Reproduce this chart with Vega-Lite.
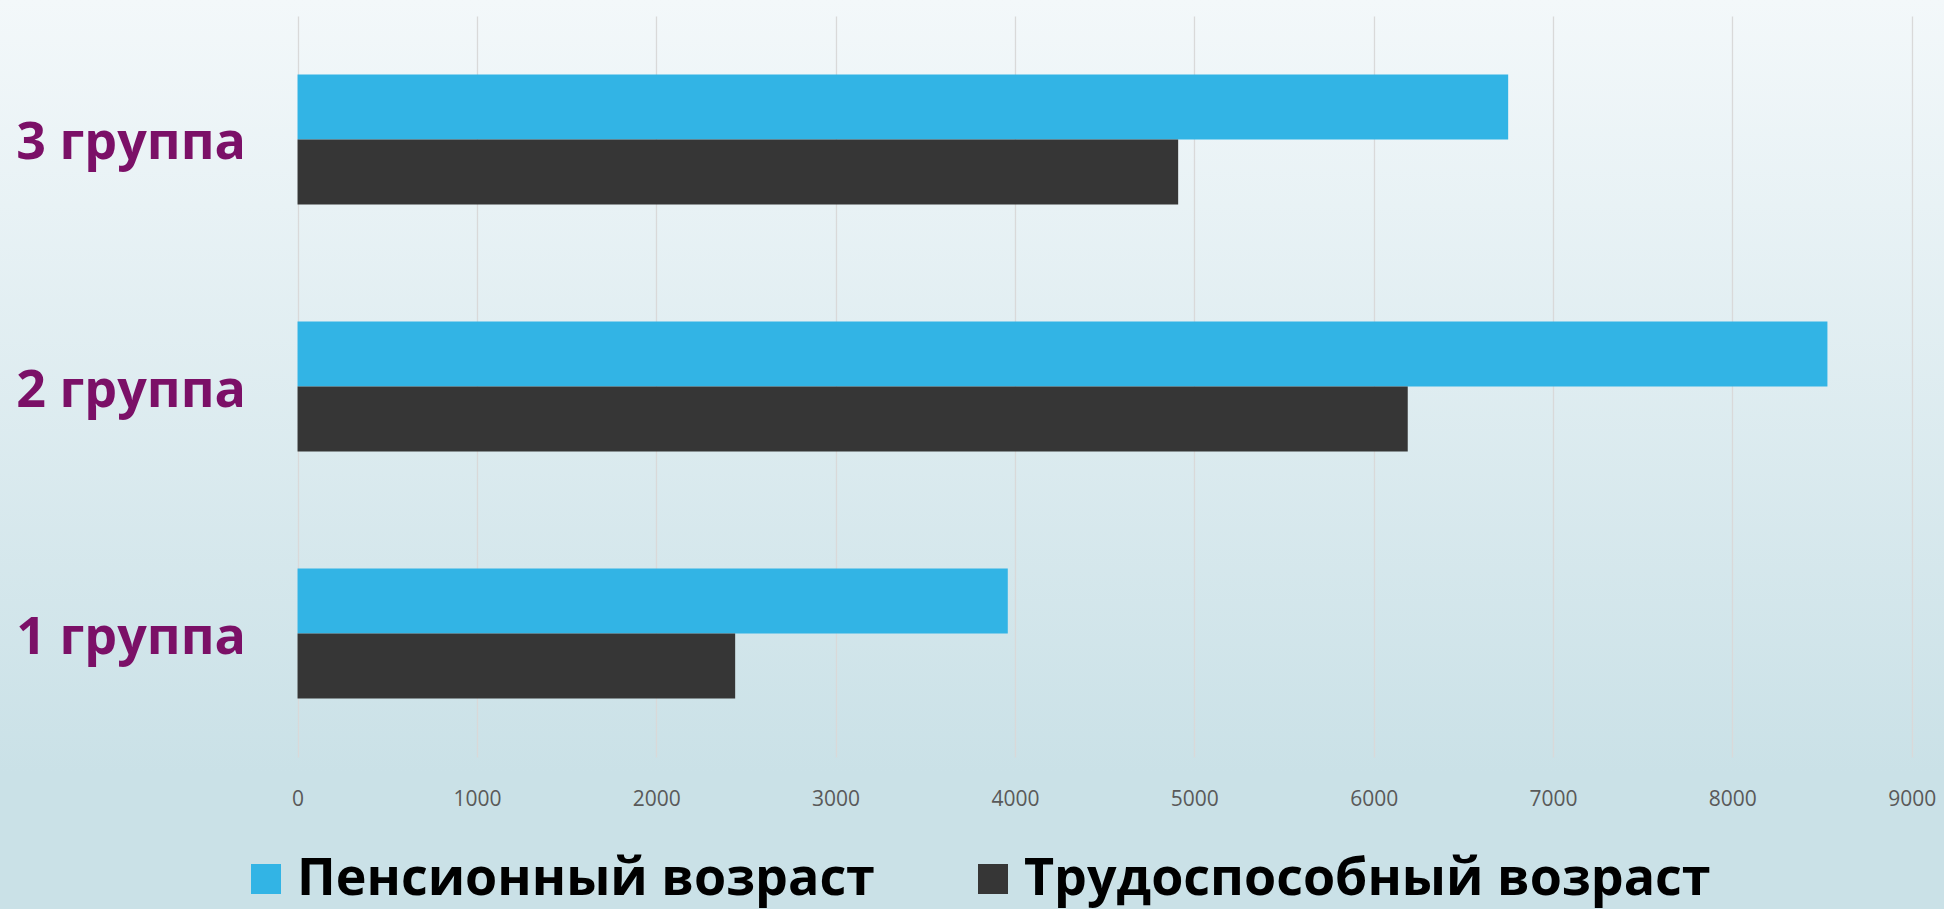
{
  "$schema": "https://vega.github.io/schema/vega-lite/v6.json",
  "width": 1944,
  "height": 773,
  "autosize": {"type": "none"},
  "padding": {"left": 0, "top": 0, "right": 0, "bottom": 136},
  "background": "#CAE1E7",
  "data": {
    "values": [
      {"group": "3 группа", "type": "Пенсионный возраст", "value": 6750},
      {"group": "3 группа", "type": "Трудоспособный возраст", "value": 4910},
      {"group": "2 группа", "type": "Пенсионный возраст", "value": 8530},
      {"group": "2 группа", "type": "Трудоспособный возраст", "value": 6190},
      {"group": "1 группа", "type": "Пенсионный возраст", "value": 3960},
      {"group": "1 группа", "type": "Трудоспособный возраст", "value": 2440}
    ]
  },
  "mark": {"type": "bar", "opacity": 1},
  "encoding": {
    "y": {
      "field": "group",
      "type": "nominal",
      "sort": ["3 группа", "2 группа", "1 группа"],
      "scale": {"range": [16, 757], "paddingInner": 0.4737, "paddingOuter": 0.2368},
      "axis": {
        "orient": "left",
        "title": null,
        "domain": false,
        "ticks": false,
        "grid": false,
        "labelPadding": -245.5,
        "labelOffset": 4,
        "labelFont": "Open Sans",
        "labelFontSize": 52,
        "labelFontWeight": "bold",
        "labelColor": "#7B1067",
        "labelBaseline": "middle",
        "labelLimit": 400
      }
    },
    "yOffset": {
      "field": "type",
      "type": "nominal",
      "sort": ["Пенсионный возраст", "Трудоспособный возраст"],
      "scale": {"paddingInner": 0, "paddingOuter": 0}
    },
    "x": {
      "field": "value",
      "type": "quantitative",
      "stack": null,
      "scale": {"domain": [-1659, 9180], "nice": false, "zero": false},
      "axis": {
        "orient": "bottom",
        "values": [0, 1000, 2000, 3000, 4000, 5000, 6000, 7000, 8000, 9000],
        "format": "d",
        "title": null,
        "domain": false,
        "ticks": false,
        "grid": true,
        "gridColor": "#D9D9D9",
        "gridWidth": 1.3,
        "labelPadding": 26.5,
        "labelBaseline": "middle",
        "labelFont": "Open Sans",
        "labelFontSize": 21,
        "labelColor": "#595959",
        "labelFlush": false
      }
    },
    "x2": {"datum": 0},
    "color": {
      "field": "type",
      "type": "nominal",
      "scale": {
        "domain": ["Пенсионный возраст", "Трудоспособный возраст"],
        "range": ["#32B4E5", "#363636"]
      },
      "legend": {
        "orient": "none",
        "legendX": 240,
        "legendY": 853,
        "direction": "horizontal",
        "title": null,
        "padding": 0,
        "symbolType": "square",
        "symbolSize": 900,
        "symbolStrokeWidth": 0,
        "symbolOpacity": 1,
        "labelFont": "Open Sans",
        "labelFontSize": 52,
        "labelFontWeight": "bold",
        "labelColor": "#000000",
        "labelOffset": 5,
        "labelLimit": 900,
        "columnPadding": 92
      }
    }
  },
  "config": {
    "view": {
      "stroke": null,
      "fill": {
        "gradient": "linear",
        "x1": 0, "y1": 0, "x2": 0, "y2": 1,
        "stops": [
          {"offset": 0, "color": "#F3F8FA"},
          {"offset": 1, "color": "#CAE1E7"}
        ]
      }
    }
  }
}
